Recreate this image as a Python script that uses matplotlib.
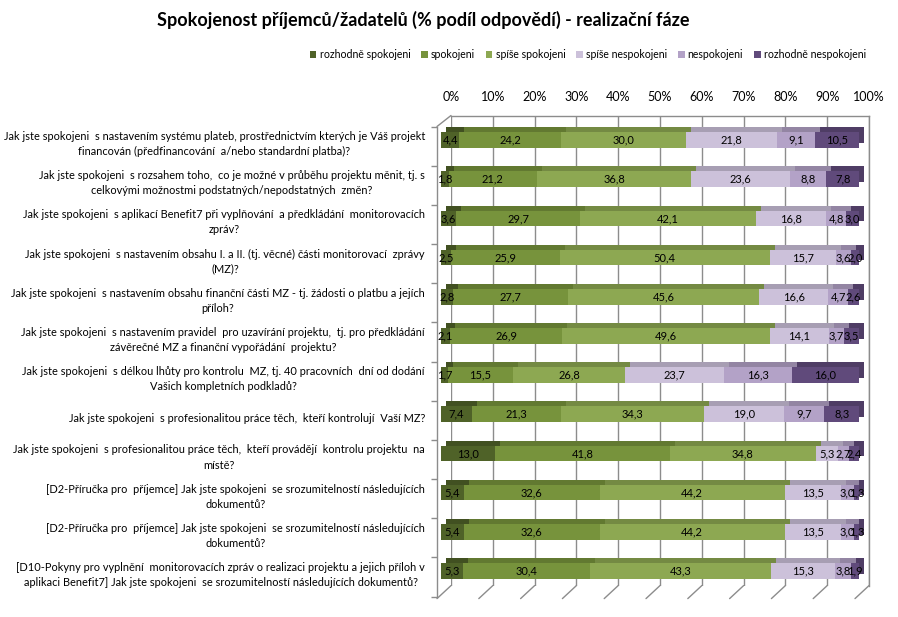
import matplotlib
matplotlib.use("Agg")
import matplotlib.pyplot as plt
import numpy as np
from matplotlib.transforms import offset_copy
from matplotlib.colors import to_rgb

plt.rcParams['font.family'] = ['Lato', 'DejaVu Sans']

title = "Spokojenost příjemců/žadatelů (% podíl odpovědí) - realizační fáze"

categories = [
    "Jak jste spokojeni  s nastavením systému plateb, prostřednictvím kterých je Váš projekt\nfinancován (předfinancování  a/nebo standardní platba)?",
    "Jak jste spokojeni  s rozsahem toho,  co je možné v průběhu projektu měnit, tj. s\ncelkovými možnostmi podstatných/nepodstatných  změn?",
    "Jak jste spokojeni  s aplikací Benefit7 při vyplňování  a předkládání  monitorovacích\nzpráv?",
    "Jak jste spokojeni  s nastavením obsahu I. a II. (tj. věcné) části monitorovací  zprávy\n(MZ)?",
    "Jak jste spokojeni  s nastavením obsahu finanční části MZ - tj. žádosti o platbu a jejích\npříloh?",
    "Jak jste spokojeni  s nastavením pravidel  pro uzavírání projektu,  tj. pro předkládání\nzávěrečné MZ a finanční vypořádání  projektu?",
    "Jak jste spokojeni  s délkou lhůty pro kontrolu  MZ, tj. 40 pracovních  dní od dodání\nVašich kompletních podkladů?",
    "Jak jste spokojeni  s profesionalitou práce těch,  kteří kontrolují  Vaší MZ?",
    "Jak jste spokojeni  s profesionalitou práce těch,  kteří provádějí  kontrolu projektu  na\nmístě?",
    "[D2-Příručka pro  příjemce] Jak jste spokojeni  se srozumitelností následujících\ndokumentů?",
    "[D2-Příručka pro  příjemce] Jak jste spokojeni  se srozumitelností následujících\ndokumentů?",
    "[D10-Pokyny pro vyplnění  monitorovacích zpráv o realizaci projektu a jejich příloh v\naplikaci Benefit7] Jak jste spokojeni  se srozumitelností následujících dokumentů?",
]

series_names = ["rozhodně spokojeni", "spokojeni", "spíše spokojeni",
                "spíše nespokojeni", "nespokojeni", "rozhodně nespokojeni"]

rozhodne_spokojeni = [4.4, 1.8, 3.6, 2.5, 2.8, 2.1, 1.7, 7.4, 13.0, 5.4, 5.4, 5.3]
spokojeni = [24.2, 21.2, 29.7, 25.9, 27.7, 26.9, 15.5, 21.3, 41.8, 32.6, 32.6, 30.4]
spise_spokojeni = [30.0, 36.8, 42.1, 50.4, 45.6, 49.6, 26.8, 34.3, 34.8, 44.2, 44.2, 43.3]
spise_nespokojeni = [21.8, 23.6, 16.8, 15.7, 16.6, 14.1, 23.7, 19.0, 5.3, 13.5, 13.5, 15.3]
nespokojeni = [9.1, 8.8, 4.8, 3.6, 4.7, 3.7, 16.3, 9.7, 2.7, 3.0, 3.0, 3.8]
rozhodne_nespokojeni = [10.5, 7.8, 3.0, 2.0, 2.6, 3.5, 16.0, 8.3, 2.4, 1.3, 1.3, 1.9]

x_ticks = [0, 10, 20, 30, 40, 50, 60, 70, 80, 90, 100]
x_tick_labels = ["0%", "10%", "20%", "30%", "40%", "50%", "60%", "70%", "80%", "90%", "100%"]

colors = ["#4F6228", "#77933C", "#8DA852", "#CCC1DA", "#B3A2C7", "#604A7B"]
grid_col = "#8C8C8C"


def darker(c, f=0.82):
    r, g, b = to_rgb(c)
    return (r * f, g * f, b * f)


series = [rozhodne_spokojeni, spokojeni, spise_spokojeni,
          spise_nespokojeni, nespokojeni, rozhodne_nespokojeni]
data = np.array(series, dtype=float)
totals = data.sum(axis=0)

W, H = 898, 617
fig = plt.figure(figsize=(W / 100, H / 100), dpi=100)
ax = fig.add_axes([451 / W, 1 - 585.6 / H, 418 / W, 470.1 / H])
n = len(categories)
y = np.arange(n)
ax.set_xlim(0, 100)
ax.set_ylim(n - 0.5, -0.5)

front = offset_copy(ax.transData, fig=fig, x=-10, y=-5, units='dots')
back = offset_copy(ax.transData, fig=fig, x=-5, y=0, units='dots')
wall = offset_copy(ax.transData, fig=fig, x=-14, y=-11, units='dots')

left = np.zeros(n)
handles = []
for name, vals, col in zip(series_names, data, colors):
    pct = vals / totals * 100
    ax.barh(y, pct, left=left, height=0.4, color=darker(col), transform=back,
            zorder=2, clip_on=False)
    h = ax.barh(y, pct, left=left, height=0.4, color=col, transform=front,
                zorder=3, clip_on=False, label=name)
    handles.append(h)
    for yi, l, p, v in zip(y, left, pct, vals):
        ax.text(l + p / 2, yi, f"{v:.1f}".replace('.', ','), transform=front,
                ha='center', va='center', fontsize=8, color='black', zorder=5)
    left += pct

# back wall grid
ax.set_xticks(x_ticks)
ax.set_xticklabels(x_tick_labels)
ax.xaxis.tick_top()
ax.tick_params(axis='x', length=0, pad=9, labelsize=9)
ax.set_yticks([])
ax.grid(axis='x', color=grid_col, lw=1)
ax.set_axisbelow(True)
for s in ['left', 'bottom']:
    ax.spines[s].set_visible(False)
for s in ['top', 'right']:
    ax.spines[s].set_color(grid_col)
    ax.spines[s].set_linewidth(1)

# floor diagonals
for v in x_ticks:
    ax.annotate('', xy=(v, n - 0.5), xytext=(-14, -13), textcoords='offset pixels',
                arrowprops=dict(arrowstyle='-', color=grid_col, lw=1, shrinkA=0, shrinkB=0),
                annotation_clip=False)
# left wall
ax.plot([0, 0], [-0.5, n - 0.5], transform=wall, color=grid_col, lw=1, clip_on=False)
ax.annotate('', xy=(0, -0.5), xytext=(-14, -11), textcoords='offset pixels',
            arrowprops=dict(arrowstyle='-', color=grid_col, lw=1, shrinkA=0, shrinkB=0),
            annotation_clip=False)
ax.plot(np.zeros(n + 1), np.arange(n + 1) - 0.5, ls='none', marker=0, ms=4, mew=1,
        color=grid_col, transform=wall, clip_on=False)

# category labels
lab_tr = offset_copy(ax.transData, fig=fig, x=-26, y=-9, units='dots')
for yi, lab in zip(y, categories):
    ax.text(0, yi, lab, transform=lab_tr, ha='right', va='center',
            multialignment='center', fontsize=7.9, linespacing=1.45, clip_on=False)

fig.legend(handles=handles, labels=series_names, loc='center',
           bbox_to_anchor=(588 / W, 1 - 55 / H), ncol=6, frameon=False,
           fontsize=7.6, handlelength=0.6, handleheight=0.6, handletextpad=0.3,
           columnspacing=1.05)

fig.text(423 / W, 1 - 20 / H, title, ha='center', va='center',
         fontsize=13, fontweight='bold')

fig.savefig("out.png", dpi=100)
